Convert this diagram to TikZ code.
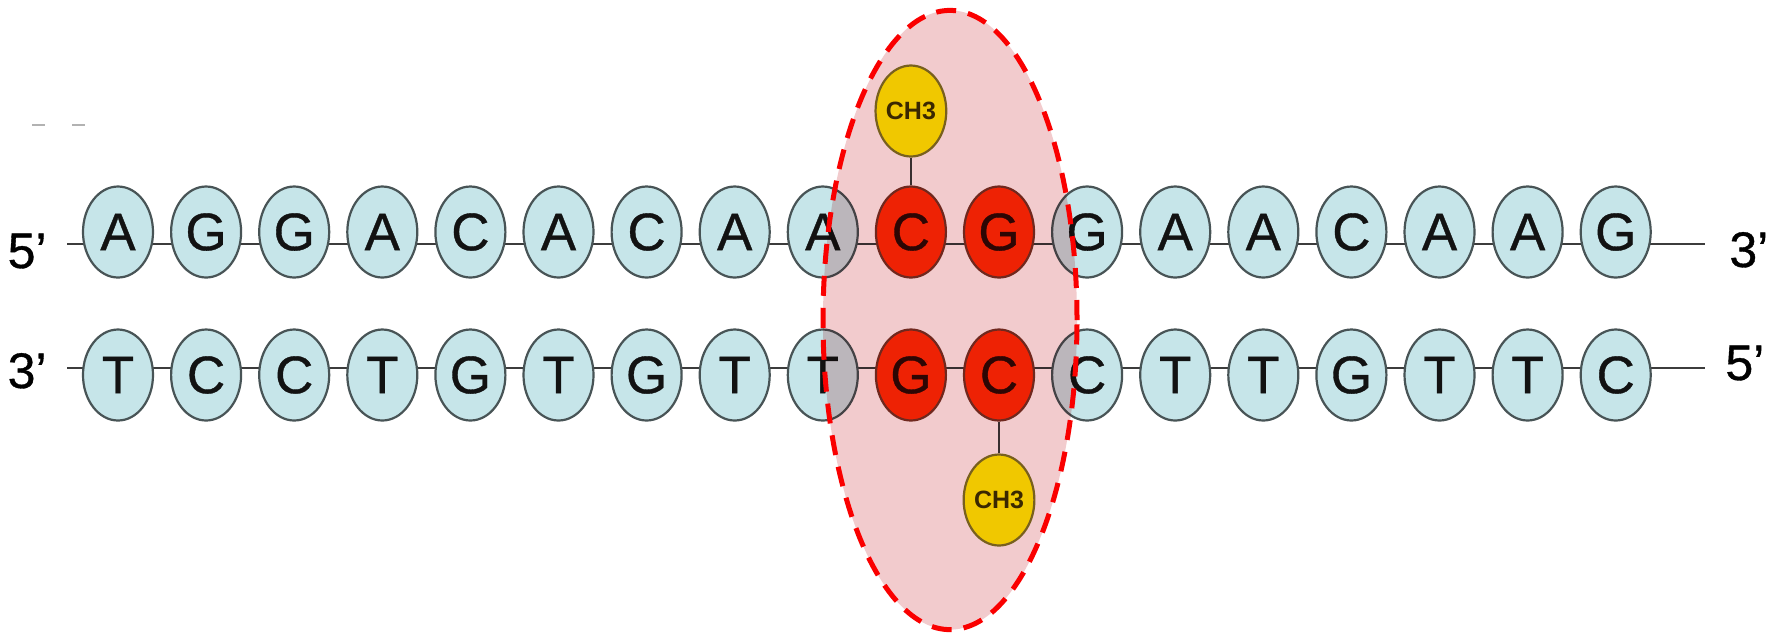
\documentclass[tikz,border=0pt]{standalone}
\usepackage{fontspec}
\setmainfont{Liberation Sans}
\newfontfamily\letterfont{Liberation Sans}[FakeBold=0.7]
\usetikzlibrary{shapes.geometric}

% drawing order: bonds, plain bases, tinted zone, CpG site, zone outline
\pgfdeclarelayer{bg}
\pgfdeclarelayer{tint}
\pgfdeclarelayer{top}
\pgfdeclarelayer{front}
\pgfsetlayers{bg,main,tint,top,front}

\definecolor{baseblue}{RGB}{198,229,233}
\definecolor{baseedge}{RGB}{72,84,86}
\definecolor{basetext}{RGB}{18,18,18}
\definecolor{cpgred}{RGB}{238,34,4}
\definecolor{cpgedge}{RGB}{112,40,30}
\definecolor{cpgtext}{RGB}{45,6,4}
\definecolor{methyl}{RGB}{240,200,0}
\definecolor{methyledge}{RGB}{120,96,30}
\definecolor{methyltext}{RGB}{58,40,0}
\definecolor{bond}{RGB}{60,60,60}
\definecolor{zonefill}{RGB}{242,203,205}
\definecolor{zoneedge}{RGB}{250,0,0}

\tikzset{
  x=0.5pt, y=-0.5pt,
  base/.style={ellipse, minimum width=35pt, minimum height=45.5pt,
    inner sep=0pt, line width=1.1pt, font=\letterfont\fontsize{26.5}{26.5}\selectfont},
  plainbase/.style={base, draw=baseedge, fill=baseblue, text=basetext},
  cpgbase/.style={base, draw=cpgedge, fill=cpgred, text=cpgtext},
  methylgroup/.style={base, draw=methyledge, fill=methyl, text=methyltext,
    font=\bfseries\fontsize{12.5}{12.5}\selectfont},
  backbone/.style={draw=bond, line width=1.3pt},
  endlabel/.style={inner sep=0pt, font=\letterfont\fontsize{25}{25}\selectfont},
}

\begin{document}
\begin{tikzpicture}
\useasboundingbox (0,0) rectangle (1770,634);

% upper strand 5'->3', lower strand 3'->5' (CpG site at positions 9 and 10)
\foreach \b [count=\j] in {A,G,G,A,C,A,C,A,A,C,G,G,A,A,C,A,A,G} {
  \pgfmathtruncatemacro\i{\j-1}
  \ifnum\i<9 \node[plainbase] (t\i) at ({118+88.1*\i},232) {\b}; \fi
  \ifnum\i>10 \node[plainbase] (t\i) at ({118+88.1*\i},232) {\b}; \fi
}
\foreach \b [count=\j] in {T,C,C,T,G,T,G,T,T,G,C,C,T,T,G,T,T,C} {
  \pgfmathtruncatemacro\i{\j-1}
  \ifnum\i<9 \node[plainbase] (b\i) at ({118+88.1*\i},375) {\b}; \fi
  \ifnum\i>10 \node[plainbase] (b\i) at ({118+88.1*\i},375) {\b}; \fi
}

\begin{pgfonlayer}{top}
  \node[cpgbase] (t9)  at ({118+88.1*9},232)  {C};
  \node[cpgbase] (t10) at ({118+88.1*10},232) {G};
  \node[cpgbase] (b9)  at ({118+88.1*9},375)  {G};
  \node[cpgbase] (b10) at ({118+88.1*10},375) {C};
  \node[methylgroup] (m1) at ({118+88.1*9},111)  {CH3};
  \node[methylgroup] (m2) at ({118+88.1*10},500) {CH3};
\end{pgfonlayer}

% strand end labels
\node[endlabel, anchor=base east] (l5) at (47,268) {5’};
\node[endlabel, anchor=base east] (l3) at (47,388) {3’};
\node[endlabel, anchor=base west] (r3) at (1729,267) {3’};
\node[endlabel, anchor=base west] (r5) at (1725,380) {5’};

\coordinate (tl) at (67,244);
\coordinate (tr) at (1705,244);
\coordinate (bl) at (67,368);
\coordinate (br) at (1705,368);

\begin{pgfonlayer}{bg}
  \fill[white] (0,0) rectangle (1770,634);
  % sugar-phosphate backbones
  \draw[backbone] (tl) -- ([yshift=-6pt]t0.center);
  \draw[backbone] ([yshift=-6pt]t17.center) -- (tr);
  \draw[backbone] (bl) -- ([yshift=3.5pt]b0.center);
  \draw[backbone] ([yshift=3.5pt]b17.center) -- (br);
  \foreach \i [evaluate=\i as \k using int(\i+1)] in {0,...,16} {
    \draw[backbone] ([yshift=-6pt]t\i.center) -- ([yshift=-6pt]t\k.center);
    \draw[backbone] ([yshift=3.5pt]b\i.center) -- ([yshift=3.5pt]b\k.center);
  }
  % methyl groups on the cytosines
  \draw[backbone] (m1) -- (t9);
  \draw[backbone] (m2) -- (b10);
  % small marks at the upper left
  \draw[gray!60, line width=1pt] (32,125) -- (45,125);
  \draw[gray!60, line width=1pt] (72,125) -- (85,125);
\end{pgfonlayer}

% highlighted CpG zone
\coordinate (zone) at (950,320);
\begin{pgfonlayer}{tint}
  \fill[zonefill, blend mode=multiply] (zone) ellipse [x radius=63.5pt, y radius=154.8pt];
\end{pgfonlayer}
\begin{pgfonlayer}{front}
  \draw[zoneedge, line width=2.5pt, dash pattern=on 10pt off 6pt]
    (zone) ellipse [x radius=63.5pt, y radius=154.8pt];
\end{pgfonlayer}
\end{tikzpicture}
\end{document}
